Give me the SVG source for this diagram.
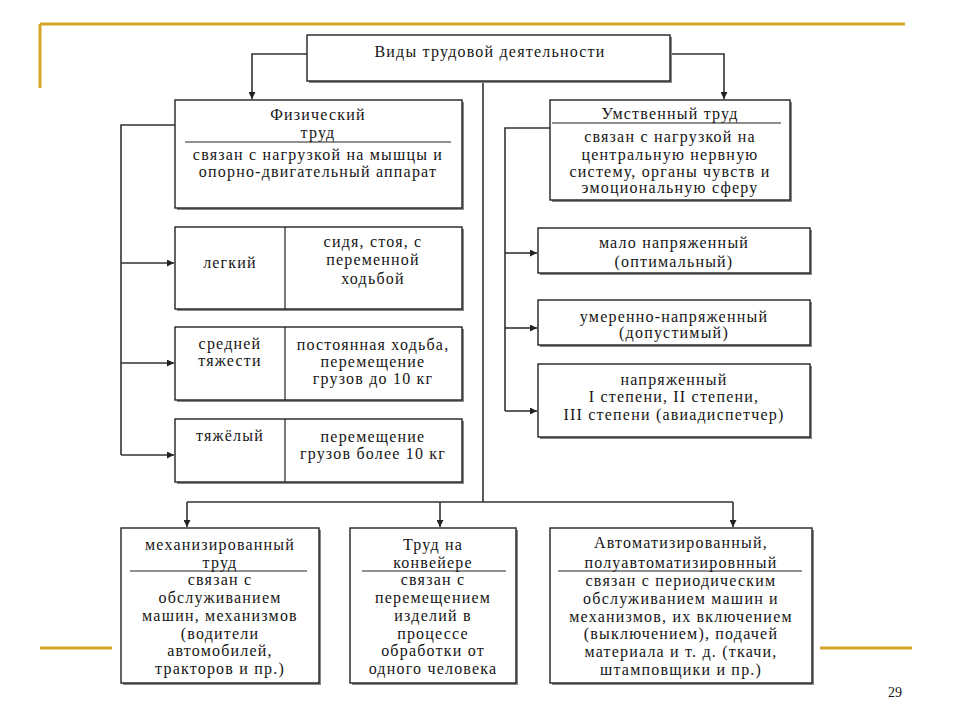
<svg xmlns="http://www.w3.org/2000/svg" width="960" height="720" viewBox="0 0 960 720">
<defs>
<marker id="arr" viewBox="0 0 10 10" refX="10" refY="5" markerWidth="7" markerHeight="7" markerUnits="userSpaceOnUse" orient="auto">
<path d="M0,0 L10,5 L0,10 z" fill="#222"/>
</marker>
</defs>
<style>
.box{fill:#fff;stroke:#222;stroke-width:1.4}
.sh{fill:#888}
.sep{stroke:#222;stroke-width:1.2}
.con{fill:none;stroke:#333;stroke-width:1.6}
.arr{fill:none;stroke:#333;stroke-width:1.6;marker-end:url(#arr)}
.gold{stroke:#D4A52A;stroke-width:3;fill:none}
text{font-family:"Liberation Serif","DejaVu Serif",serif;font-size:16px;fill:#151515;text-anchor:middle;letter-spacing:1.2px}
</style>
<rect width="960" height="720" fill="#fff"/>
<g id="decor">
<path class="gold" d="M40,24 H905 M40,24 V88 M40,648 H112 M820,648 H912"/>
<text x="895" y="697" style="letter-spacing:0;font-size:14px">29</text>
</g>
<g id="connectors">
<path class="arr" d="M307,54 H252 V99"/>
<path class="arr" d="M670,54 H724 V99"/>
<path class="con" d="M483,81 V502 M187,502 H733"/>
<path class="arr" d="M187,502 V527"/>
<path class="arr" d="M440,502 V527"/>
<path class="arr" d="M733,502 V527"/>
<path class="con" d="M175,125 H121 V455"/>
<path class="arr" d="M121,263 H174"/>
<path class="arr" d="M121,363 H174"/>
<path class="arr" d="M121,455 H174"/>
<path class="con" d="M550,128 H505 V411"/>
<path class="arr" d="M505,253 H537"/>
<path class="arr" d="M505,328 H537"/>
<path class="arr" d="M505,411 H537"/>
</g>
<g id="root">
<rect class="sh" x="309" y="37" width="363" height="46"/>
<rect class="box" x="307" y="35" width="363" height="46"/>
<text x="490" y="57">Виды трудовой деятельности</text>
</g>
<g id="physical">
<rect class="sh" x="177" y="102" width="287" height="108"/>
<rect class="box" x="175" y="100" width="287" height="108"/>
<text x="318" y="120">Физический</text>
<text x="318" y="138">труд</text>
<line class="sep" x1="185" y1="142" x2="451" y2="142"/>
<text x="318" y="160">связан с нагрузкой на мышцы и</text>
<text x="318" y="177">опорно-двигательный аппарат</text>
</g>
<g id="mental">
<rect class="sh" x="552" y="102" width="240" height="100"/>
<rect class="box" x="550" y="100" width="240" height="100"/>
<text x="670" y="119">Умственный труд</text>
<line class="sep" x1="552" y1="123" x2="781" y2="123"/>
<text x="670" y="142">связан с нагрузкой на</text>
<text x="670" y="160">центральную нервную</text>
<text x="670" y="177">систему, органы чувств и</text>
<text x="670" y="193">эмоциональную сферу</text>
</g>
<g id="light">
<rect class="sh" x="177" y="229" width="287" height="82"/>
<rect class="box" x="175" y="227" width="287" height="82"/>
<line class="sep" x1="285" y1="227" x2="285" y2="309"/>
<text x="230" y="268">легкий</text>
<text x="373" y="247">сидя, стоя, с</text>
<text x="373" y="265">переменной</text>
<text x="373" y="284">ходьбой</text>
</g>
<g id="medium">
<rect class="sh" x="177" y="329" width="287" height="73"/>
<rect class="box" x="175" y="327" width="287" height="73"/>
<line class="sep" x1="285" y1="327" x2="285" y2="400"/>
<text x="230" y="349">средней</text>
<text x="230" y="366">тяжести</text>
<text x="373" y="350">постоянная ходьба,</text>
<text x="373" y="367">перемещение</text>
<text x="373" y="384">грузов до 10 кг</text>
</g>
<g id="heavy">
<rect class="sh" x="177" y="421" width="287" height="63"/>
<rect class="box" x="175" y="419" width="287" height="63"/>
<line class="sep" x1="285" y1="419" x2="285" y2="482"/>
<text x="230" y="441">тяжёлый</text>
<text x="373" y="442">перемещение</text>
<text x="373" y="459">грузов более 10 кг</text>
</g>
<g id="low-stress">
<rect class="sh" x="540" y="230" width="272" height="45"/>
<rect class="box" x="538" y="228" width="272" height="45"/>
<text x="674" y="248">мало напряженный</text>
<text x="674" y="267">(оптимальный)</text>
</g>
<g id="moderate-stress">
<rect class="sh" x="540" y="302" width="272" height="45"/>
<rect class="box" x="538" y="300" width="272" height="45"/>
<text x="674" y="322">умеренно-напряженный</text>
<text x="674" y="338">(допустимый)</text>
</g>
<g id="high-stress">
<rect class="sh" x="540" y="366" width="272" height="73"/>
<rect class="box" x="538" y="364" width="272" height="73"/>
<text x="674" y="385">напряженный</text>
<text x="674" y="402">I степени, II степени,</text>
<text x="674" y="420">III степени (авиадиспетчер)</text>
</g>
<g id="mechanized">
<rect class="sh" x="123" y="530" width="198" height="155"/>
<rect class="box" x="121" y="528" width="198" height="155"/>
<text x="220" y="550">механизированный</text>
<text x="220" y="568">труд</text>
<line class="sep" x1="130" y1="571" x2="307" y2="571"/>
<text x="220" y="585">связан с</text>
<text x="220" y="603">обслуживанием</text>
<text x="220" y="621">машин, механизмов</text>
<text x="220" y="639">(водители</text>
<text x="220" y="656">автомобилей,</text>
<text x="220" y="674">тракторов и пр.)</text>
</g>
<g id="conveyor">
<rect class="sh" x="352" y="530" width="166" height="155"/>
<rect class="box" x="350" y="528" width="166" height="155"/>
<text x="433" y="550">Труд на</text>
<text x="433" y="568">конвейере</text>
<line class="sep" x1="362" y1="571" x2="506" y2="571"/>
<text x="433" y="585">связан с</text>
<text x="433" y="603">перемещением</text>
<text x="433" y="621">изделий в</text>
<text x="433" y="639">процессе</text>
<text x="433" y="656">обработки от</text>
<text x="433" y="674">одного человека</text>
</g>
<g id="automated">
<rect class="sh" x="552" y="530" width="262" height="155"/>
<rect class="box" x="550" y="528" width="262" height="155"/>
<text x="681" y="548">Автоматизированный,</text>
<text x="681" y="568">полуавтоматизировнный</text>
<line class="sep" x1="558" y1="571" x2="802" y2="571"/>
<text x="681" y="586">связан с периодическим</text>
<text x="681" y="604">обслуживанием машин и</text>
<text x="681" y="622">механизмов, их включением</text>
<text x="681" y="639">(выключением), подачей</text>
<text x="681" y="657">материала и т. д. (ткачи,</text>
<text x="681" y="675">штамповщики и пр.)</text>
</g>
</svg>
